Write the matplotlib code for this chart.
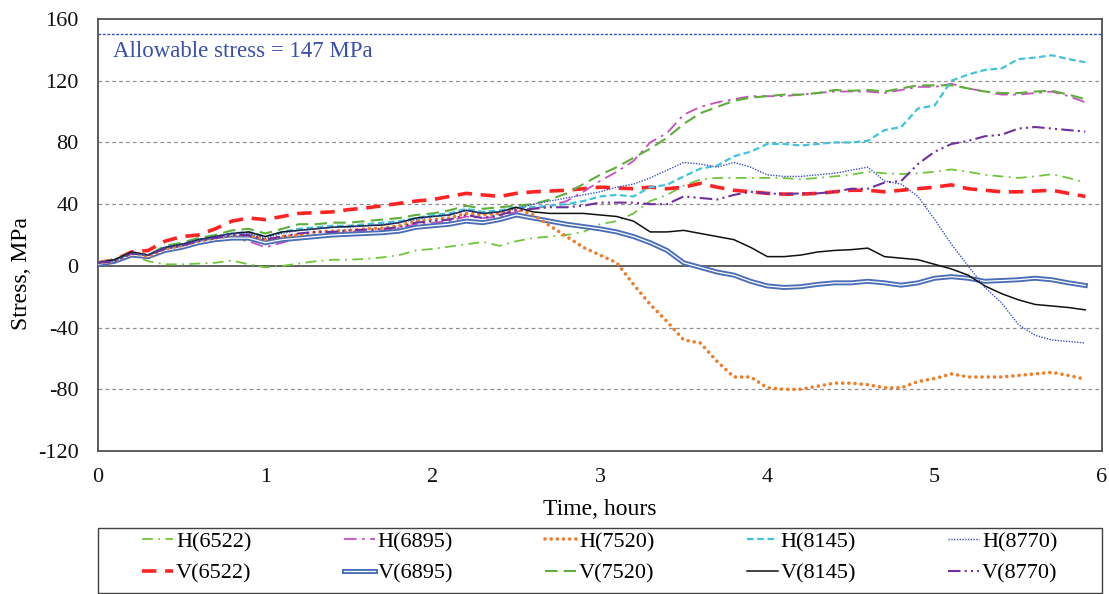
import numpy as np
import matplotlib
matplotlib.use("Agg")
import matplotlib.pyplot as plt
import matplotlib.patheffects as pe
from matplotlib.patches import Rectangle

plt.rcParams["font.family"] = ["Liberation Serif", "DejaVu Serif"]
plt.rcParams["axes.unicode_minus"] = False

# ── data ─────────────────────────────────────────────────────────────────────
hours = [0.0, 0.1, 0.2, 0.3, 0.4, 0.5, 0.6, 0.7, 0.8, 0.9,
         1.0, 1.1, 1.2, 1.3, 1.4, 1.5, 1.6, 1.7, 1.8, 1.9,
         2.0, 2.1, 2.2, 2.3, 2.4, 2.5, 2.6, 2.7, 2.8, 2.9,
         3.0, 3.1, 3.2, 3.3, 3.4, 3.5, 3.6, 3.7, 3.8, 3.9,
         4.0, 4.1, 4.2, 4.3, 4.4, 4.5, 4.6, 4.7, 4.8, 4.9,
         5.0, 5.1, 5.2, 5.3, 5.4, 5.5, 5.6, 5.7, 5.8, 5.9]

h6522 = [2, 3, 7, 3, 1, 1, 1.5, 2, 3.5, 1,
         -1, 0, 1.5, 3, 4, 4, 4.5, 5.5, 7, 10,
         11, 12.5, 14, 15.5, 13, 16, 18, 19, 20, 22,
         27, 29, 34, 42, 46, 52, 56, 57, 57, 57,
         57, 57, 56, 57, 58, 59, 61, 60, 59.5, 60,
         61, 62.5, 61, 59, 58, 57, 58, 59.4, 57, 54]
h6895 = [1, 3, 7, 6, 10, 12, 15, 17, 18, 16,
         12, 15, 18, 20, 21, 22, 22.5, 23, 24.5, 27,
         28, 29, 32, 31, 32, 35, 37, 39, 42, 48,
         55, 61, 68, 80, 86, 98, 103, 106, 108, 110,
         110, 110, 111, 112, 113, 113, 113, 112, 114, 116,
         116, 118, 115, 113, 111, 111, 112, 113, 110, 106]
h7520 = [2, 3, 8, 6, 11, 13, 16, 18, 20, 20,
         17, 19, 20, 22, 22.5, 23, 24, 24.5, 26, 29,
         30, 31, 34, 33, 34, 37, 33, 26, 19, 12,
         7, 2, -12, -25, -36, -48, -50, -62, -72, -72,
         -79, -80, -80, -78, -76, -76, -77, -79, -79, -75,
         -73, -70, -72, -72, -72, -71, -70, -69, -71, -73.5]
h8145 = [2, 4, 8, 7, 12, 14, 17, 19, 21, 22,
         19, 22, 24, 25, 26, 26, 27, 28, 29, 31,
         33, 34, 37, 35, 36, 38, 38, 39, 40, 42,
         45, 46, 45, 51, 52.5, 58, 63, 65, 71, 74,
         79, 79, 78, 79, 80, 80, 81, 88, 90, 102,
         104, 120, 124, 127, 128, 134, 135, 136.5, 134, 132]
h8770 = [2, 3, 8, 7, 12, 14, 17, 19, 21, 21,
         18, 21, 23, 24, 25, 25, 26, 27, 28, 30,
         32, 33, 36, 34, 35, 37, 40, 42, 44, 46,
         48, 51, 53, 57, 62, 67, 66, 64, 67, 64,
         59, 58, 58, 59, 60, 62, 64, 55, 53, 45,
         30, 14, 0, -14, -24, -38, -45, -48, -49, -50]
v6522 = [2, 4, 9, 10, 16, 19, 20, 24, 29, 31,
         30, 32, 34, 34.5, 35, 36.5, 37.5, 39, 40.5, 42,
         43, 45, 47, 46, 45, 47, 48, 48.5, 49, 50,
         51, 50.5, 50, 51, 50, 51, 53.5, 51, 49, 48,
         47, 46.5, 46.5, 47, 48, 49, 49, 48, 49, 50,
         51, 52.5, 50, 49, 48, 48, 48.5, 49, 47, 45]
v6895 = [1, 3, 7, 6, 10, 12, 15, 17, 18, 18,
         15, 17, 18, 19, 20, 20.5, 21, 21.5, 22.5, 25,
         26, 27, 29, 28, 30, 33, 31, 29, 27, 25.5,
         24, 22, 19, 15, 10, 2, -1, -4, -6, -10,
         -13, -14, -13.5, -12, -11, -11, -10, -11, -12.5, -11,
         -8, -7, -8, -10, -9.5, -9, -8, -9, -11, -12.7]
v7520 = [2, 4, 9, 7, 13, 15, 18, 20, 23, 24,
         21, 24, 27, 27, 28, 28, 29, 30, 31, 33,
         34, 36, 39, 37, 38, 39, 40, 43, 47, 53,
         59, 64, 70, 76, 83, 92, 99, 103, 107, 109,
         110, 111, 111, 112, 114, 113.5, 114, 113, 115, 117,
         117, 117, 115, 113, 112, 112, 113, 113.5, 111, 108]
v8145 = [2, 4, 9, 7, 12, 14, 17, 19, 21, 22,
         19, 22, 23, 24, 25, 25.5, 26, 26.5, 28, 31,
         32, 33, 36, 34, 35, 38, 35, 34, 34, 34,
         33, 32, 29, 22, 22, 23, 21, 19, 17, 12,
         6, 6, 7, 9, 10, 10.5, 11.5, 6, 5, 4,
         1, -2, -6, -13, -18, -22, -25, -26, -27, -28.5]
v8770 = [2, 3, 8, 7, 11, 13, 16, 18, 20, 20,
         17, 19, 21, 22, 22, 23, 23.5, 24, 25, 28,
         29, 30, 33, 31, 33, 36, 37, 38, 38, 39,
         41, 41, 41, 40, 40, 45, 44, 43, 46, 48,
         47, 46.5, 47, 47, 48, 50, 50, 54, 55, 66,
         74, 79, 81, 84, 85, 89, 90, 89, 88, 87]

allowable = 150
y_ticks = [-120, -80, -40, 0, 40, 80, 120, 160]
x_ticks = [0, 1, 2, 3, 4, 5, 6]

# (label, values, color, linewidth, linestyle) -- legend order is column-major
SERIES = [
    ("H(6522)", h6522, "#6fc63a", 1.3, (0, (6, 3, 1, 3))),
    ("V(6522)", v6522, "#ff2424", 2.6, (0, (4, 2.4))),
    ("H(6895)", h6895, "#c84fc0", 1.3, (0, (7, 3, 1.5, 3))),
    ("V(6895)", v6895, "white", 0.9, "-"),
    ("H(7520)", h7520, "#f07c28", 2.6, (0, (0.01, 1.7))),
    ("V(7520)", v7520, "#5fae3a", 1.5, (0, (6, 3))),
    ("H(8145)", h8145, "#3fc4dc", 1.6, (0, (3, 1.6))),
    ("V(8145)", v8145, "#111111", 1.1, "-"),
    ("H(8770)", h8770, "#3b4fc8", 1.0, (0, (1, 1))),
    ("V(8770)", v8770, "#7030a0", 1.5, (0, (6, 2, 1, 2, 1, 2))),
]

fig = plt.figure(figsize=(11.09, 5.94), dpi=100)
ax = fig.add_axes([0.0884, 0.2407, 0.9053, 0.7273])

for y in [-80, -40, 40, 80, 120]:
    ax.axhline(y, color="#909090", lw=0.9, ls=(0, (3, 2.5)), zorder=0)
ax.axhline(0, color="#555555", lw=1.3, zorder=1)
ax.axhline(allowable, color="#3050c8", lw=1.0, ls=(0, (2, 1.2)), zorder=1)
ax.text(0.09, 139, "Allowable stress = 147 MPa", color="#3a4fb0",
        fontsize=16.5, va="center", ha="left")

for label, vals, color, lw, ls in SERIES:
    kw = {}
    if label == "V(6895)":
        kw["path_effects"] = [pe.Stroke(linewidth=3.6, foreground="#4a6db8"),
                              pe.Normal()]
    if label == "H(7520)":
        kw["dash_capstyle"] = "round"
    ax.plot(hours, vals, color=color, lw=lw, ls=ls, label=label, zorder=3, **kw)

ax.set_xlim(0, 6)
ax.set_ylim(-120, 160)
ax.set_xticks(x_ticks)
ax.set_yticks(y_ticks)
ax.tick_params(axis="y", length=0, labelsize=16, pad=14, colors="#111111")
ax.tick_params(axis="x", length=0, labelsize=16, pad=12, colors="#111111")
for spine in ax.spines.values():
    spine.set_edgecolor("#505050")
    spine.set_linewidth(1.3)

ax.set_xlabel("Time, hours", fontsize=17, labelpad=9)
ax.set_ylabel("Stress, MPa", fontsize=17, labelpad=8)
ax.yaxis.set_label_coords(-0.066, 0.41)

# legend box spanning the plot width, entries centred in five columns
fig.patches.append(Rectangle((0.0884, 0.002), 0.9053, 0.109,
                             transform=fig.transFigure, fill=False,
                             edgecolor="#404040", linewidth=1.0))
leg = fig.legend(loc="center", ncol=5, bbox_to_anchor=(0.541, 0.061),
                 fontsize=16, frameon=False,
                 handlelength=1.4, handletextpad=0.12,
                 columnspacing=4.15, labelspacing=0.5)

fig.savefig("out.png", dpi=100)
